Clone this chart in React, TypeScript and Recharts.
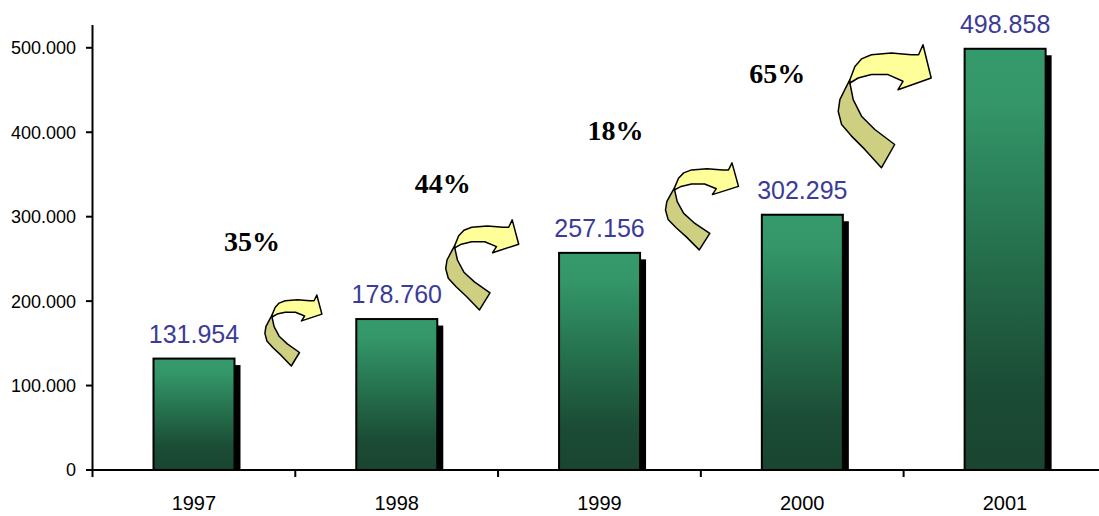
import React from 'react';
import { BarChart, Bar, XAxis, YAxis, LabelList, ReferenceDot } from 'recharts';

// Revenue per year
const YEARS = ['1997', '1998', '1999', '2000', '2001'];
const REVENUE = [131954, 178760, 257156, 302295, 498858];
const Y_TICKS = [0, 100000, 200000, 300000, 400000, 500000];

// Year-over-year growth, rounded to whole percent
const GROWTH = REVENUE.slice(1).map((v, i) => Math.round((v / REVENUE[i] - 1) * 100));

const data = YEARS.map((year, i) => ({ year, value: REVENUE[i] }));

// Placement of the growth arrows: anchored on the left bar's category and a value on the y scale
const ARROW_LAYOUT = [
  { dx: 71, top: 207300, w: 57, h: 71 },
  { dx: 49, top: 296200, w: 73, h: 90 },
  { dx: 66, top: 363700, w: 73, h: 87 },
  { dx: 36, top: 503600, w: 93, h: 123 },
];
// Placement of the growth percentages (text baseline on the y scale)
const GROWTH_LAYOUT = [
  { dx: 58, base: 259500 },
  { dx: 46, base: 328200 },
  { dx: 16, base: 391000 },
  { dx: -25, base: 458500 },
];

const SANS = '"Liberation Sans", Arial, sans-serif';
const SERIF = '"Liberation Serif", "Times New Roman", serif';

const fmt = (n: number) => String(n).replace(/\B(?=(\d{3})+(?!\d))/g, '.');

// Curved arrow outline in a 100x100 unit box
const UPPER: [number, number][] = [
  [12.5, 28.4], [17.9, 17.6], [25, 11.5], [35.7, 8.1], [57.1, 6.8], [78.6, 8.1], [86.4, 8.1],
  [91.1, 0], [100, 27], [64.3, 36.5], [69.6, 29.7], [53.6, 24.3], [35.7, 24.3], [21.4, 27], [12.5, 31.1],
];
const LOWER: [number, number][] = [
  [12.5, 28.4], [7.1, 36.5], [1.8, 44.6], [0, 54.1], [3.6, 64.9], [14.3, 74.3], [28.6, 85.1],
  [46.4, 100], [60.7, 81.1], [39.3, 68.9], [25, 58.1], [16.1, 44.6], [12.5, 31.1],
];

const toPath = (pts: [number, number][], x: number, y: number, w: number, h: number) =>
  pts.map(([u, v], i) => `${i ? 'L' : 'M'}${(x + (u / 100) * w).toFixed(1)},${(y + (v / 100) * h).toFixed(1)}`).join(' ') + ' Z';

const makeArrow = (layout: { dx: number; w: number; h: number }) => (props: any) => {
  const x = props.cx + layout.dx;
  const y = props.cy;
  return (
    <g>
      <path d={toPath(LOWER, x, y, layout.w, layout.h)} fill="#CFCF82" stroke="#000" strokeWidth={1.5} strokeLinejoin="round" />
      <path d={toPath(UPPER, x, y, layout.w, layout.h)} fill="#FFFF99" stroke="#000" strokeWidth={1.5} strokeLinejoin="round" />
    </g>
  );
};

const makeGrowthText = (dx: number, pct: number) => (props: any) => (
  <text x={props.cx + dx} y={props.cy} textAnchor="middle" fontFamily={SERIF} fontWeight="bold" fontSize={28} fill="#000">
    {`${pct}%`}
  </text>
);

const ShadowBar = (props: any) => {
  const { x, y, width, height } = props;
  if (height <= 0) return null;
  return (
    <g>
      <rect x={x + 6} y={y + 6.5} width={width} height={Math.max(0, height - 6.5)} fill="#000" />
      <rect x={x} y={y} width={width} height={height} fill="url(#barFill)" stroke="#000" strokeWidth={2} />
    </g>
  );
};

const ValueLabel = (props: any) => {
  const { x, y, width, value } = props;
  return (
    <text x={x + width / 2} y={y - 16} textAnchor="middle" fontFamily={SANS} fontSize={25} fill="#3B3B98">
      {fmt(value)}
    </text>
  );
};

// Category boundary ticks with centred year labels
const XTick = (props: any) => {
  const { x, y, payload, index } = props;
  const half = payload && typeof payload.offset === 'number' && payload.offset > 0 ? payload.offset : 101.4;
  const axisY = y - 7;
  return (
    <g>
      <line x1={x - half} x2={x - half} y1={axisY} y2={axisY + 7} stroke="#000" strokeWidth={2} />
      {index === YEARS.length - 1 && (
        <line x1={x + half} x2={x + half} y1={axisY} y2={axisY + 7} stroke="#000" strokeWidth={2} />
      )}
      <text x={x} y={axisY + 40} textAnchor="middle" fontFamily={SANS} fontSize={20} fill="#000">
        {payload.value}
      </text>
    </g>
  );
};

export default function App() {
  return (
    <div style={{ position: 'absolute', left: 0, top: 0, width: 1099, height: 516, overflow: 'hidden', background: '#fff' }}>
      <BarChart width={1112} height={516} data={data} margin={{ top: 25, right: 5.6, bottom: 0, left: 0 }}>
        <defs>
          <linearGradient id="barFill" x1="0" y1="0" x2="0" y2="1">
            <stop offset="0" stopColor="#359A6B" />
            <stop offset="0.12" stopColor="#34976A" />
            <stop offset="0.45" stopColor="#26734F" />
            <stop offset="0.8" stopColor="#1B4C35" />
            <stop offset="1" stopColor="#1A4530" />
          </linearGradient>
        </defs>
        <XAxis
          dataKey="year"
          height={46}
          axisLine={{ stroke: '#000', strokeWidth: 2 }}
          tickLine={false}
          tickSize={7}
          tickMargin={0}
          tick={<XTick />}
          interval={0}
        />
        <YAxis
          width={92.5}
          domain={[0, 527000]}
          ticks={Y_TICKS}
          tickFormatter={(v: number) => fmt(v)}
          axisLine={{ stroke: '#000', strokeWidth: 2 }}
          tickLine={{ stroke: '#000', strokeWidth: 2 }}
          tickSize={6.5}
          tickMargin={10}
          tick={{ fontFamily: SANS, fontSize: 18, fill: '#000' }}
          allowDataOverflow
        />
        <Bar dataKey="value" barSize={81} shape={<ShadowBar />} isAnimationActive={false}>
          <LabelList dataKey="value" content={<ValueLabel />} />
        </Bar>
        {ARROW_LAYOUT.map((a, i) => (
          <ReferenceDot key={`arrow-${i}`} x={YEARS[i]} y={a.top} ifOverflow="visible" shape={makeArrow(a)} />
        ))}
        {GROWTH_LAYOUT.map((g, i) => (
          <ReferenceDot key={`growth-${i}`} x={YEARS[i]} y={g.base} ifOverflow="visible" shape={makeGrowthText(g.dx, GROWTH[i])} />
        ))}
      </BarChart>
    </div>
  );
}
